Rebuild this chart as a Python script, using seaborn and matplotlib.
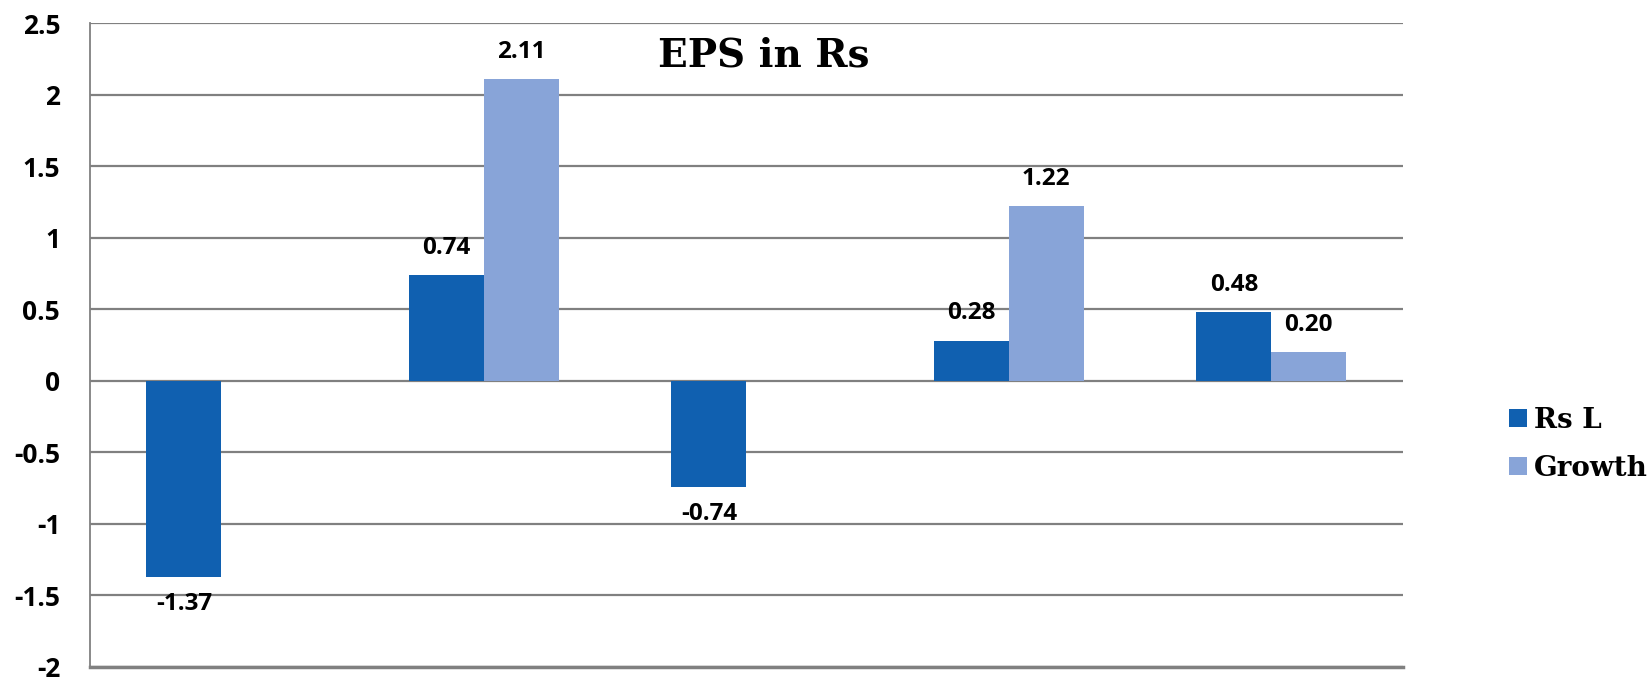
import matplotlib
matplotlib.use("Agg")
import matplotlib.pyplot as plt
import seaborn as sns
import numpy as np
import pandas as pd

# Chart values
categories = ["C1", "C2", "C3", "C4", "C5"]
rs_l = [-1.37, 0.74, -0.74, 0.28, 0.48]
growth = [np.nan, 2.11, np.nan, 1.22, 0.20]
series_names = ["Rs L", "Growth"]
colors = ["#1060B0", "#88A4D8"]
y_ticks = [-2, -1.5, -1, -0.5, 0, 0.5, 1, 1.5, 2, 2.5]

df = pd.DataFrame({
    "cat": categories * 2,
    "val": rs_l + growth,
    "series": [series_names[0]] * 5 + [series_names[1]] * 5,
})
df = df.dropna()

sns.set_style("white")
grid_col = "#808080"
num_font = "Open Sans"

fig = plt.figure(figsize=(16.52, 6.77), dpi=100)
ax = fig.add_axes([0.0545, 0.0148, 0.7945, 0.9512])

sns.barplot(data=df, x="cat", y="val", hue="series", order=categories,
            hue_order=series_names, palette=colors, width=0.57,
            saturation=1, errorbar=None, ax=ax, legend=True, linewidth=0)

for cont in ax.containers:
    ax.bar_label(cont, fmt="%.2f", padding=11, fontsize=17.5, color="black",
                 fontweight="bold", family=num_font)

ax.set_xlim(-0.5, 4.5)
ax.set_ylim(-2, 2.5)
ax.set_yticks(y_ticks)
ax.set_yticklabels([f"{t:g}" for t in y_ticks], fontsize=19, color="black",
                   fontweight="bold", family=num_font)
ax.set_xticks(np.arange(-0.5, 5, 1))
ax.set_xticklabels([])
ax.set_xlabel("")
ax.set_ylabel("")
ax.yaxis.grid(True, color=grid_col, linewidth=1.6)
ax.set_axisbelow(True)
ax.tick_params(axis="both", length=7.5, width=1.3, color=grid_col,
               direction="out", pad=14)
for s in ["top", "right"]:
    ax.spines[s].set_visible(False)
ax.spines["left"].set_color(grid_col)
ax.spines["left"].set_linewidth(1.3)
ax.spines["bottom"].set_color(grid_col)
ax.spines["bottom"].set_linewidth(2.5)

ax.text(0.513, 0.95, "EPS in Rs", transform=ax.transAxes, ha="center",
        va="center", fontsize=28, fontweight="bold", family="DejaVu Serif",
        color="black")

leg = ax.legend(loc="center left", bbox_to_anchor=(1.081, 0.346), frameon=False,
                prop={"family": "DejaVu Serif", "weight": "bold", "size": 20},
                handlelength=0.65, handleheight=0.65, labelspacing=0.75,
                handletextpad=0.25, borderpad=0, borderaxespad=0)
for t in leg.get_texts():
    t.set_color("black")

fig.savefig("out.png", dpi=100)
